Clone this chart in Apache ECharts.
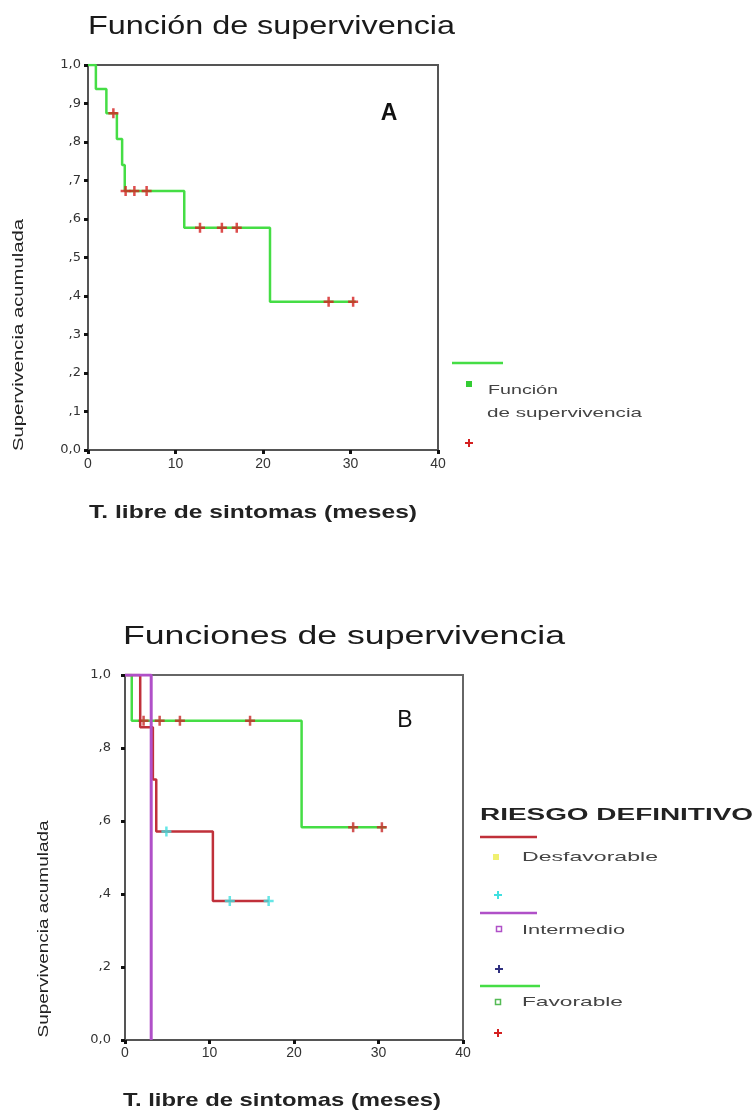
<!DOCTYPE html>
<html><head><meta charset="utf-8">
<script src="https://cdn.jsdelivr.net/npm/echarts@6/dist/echarts.min.js"></script>
<style>html,body{margin:0;padding:0;background:#fff}#c{width:755px;height:1111px}</style>
</head><body><div id="c"></div>
<script>
// ---- Chart A: Función de supervivencia ----
const aTimes = [0, 0.9, 2.1, 3.3, 3.9, 4.2, 11.0, 20.8, 30.6];
const aSurv  = [1.0, 0.9375, 0.875, 0.808, 0.740, 0.673, 0.577, 0.385, 0.385];
const aCensTimes = [2.9, 4.3, 5.3, 6.7, 12.8, 15.3, 17.0, 27.5, 30.3];
const aCensSurv  = [0.875, 0.673, 0.673, 0.673, 0.577, 0.577, 0.577, 0.385, 0.385];
// ---- Chart B: Funciones de supervivencia (RIESGO DEFINITIVO) ----
const desfTimes = [0, 1.8, 3.3, 3.7, 10.4, 17.0];
const desfSurv  = [1.0, 0.857, 0.714, 0.571, 0.381, 0.381];
const desfCensTimes = [4.9, 12.4, 17.0];
const desfCensSurv  = [0.571, 0.381, 0.381];
const interTimes = [0, 3.1];
const interSurv  = [1.0, 0.0];
const favTimes = [0, 0.8, 20.9, 30.9];
const favSurv  = [1.0, 0.875, 0.583, 0.583];
const favCensTimes = [2.2, 4.1, 6.5, 14.8, 27.0, 30.4];
const favCensSurv  = [0.875, 0.875, 0.875, 0.875, 0.583, 0.583];
// ---- tick labels ----
const xTickLabels = ['0', '10', '20', '30', '40'];
const yTickLabelsA = ['0,0', ',1', ',2', ',3', ',4', ',5', ',6', ',7', ',8', ',9', '1,0'];
const yTickLabelsB = ['0,0', ',2', ',4', ',6', ',8', '1,0'];
// ---- texts ----
const titleA = 'Función de supervivencia';
const titleB = 'Funciones de supervivencia';
const xTitle = 'T. libre de sintomas (meses)';
const yTitle = 'Supervivencia acumulada';
const legendTitleB = 'RIESGO DEFINITIVO';
const groupNames = ['Desfavorable', 'Intermedio', 'Favorable'];

const zip = (a, b) => a.map((v, i) => [v, b[i]]);
const FAM = '"Liberation Sans", Arial, sans-serif';
const mctx = document.createElement('canvas').getContext('2d');
function fit(text, size, weight, target) {
  mctx.font = weight + ' ' + size + 'px ' + FAM;
  return target / mctx.measureText(text).width;
}
function txt(text, x, y, size, weight, target, color, opts) {
  opts = opts || {};
  return {
    type: 'text', x: x, y: y, rotation: opts.rotation || 0,
    scaleX: target ? fit(text, size, weight, target) : 1,
    z: 100,
    style: {
      text: text, fontSize: size, fontWeight: weight, fontFamily: FAM,
      fill: color, align: opts.align || 'left', verticalAlign: opts.va || 'middle'
    }
  };
}
function plus(cx, cy, s, color) {
  return [
    { type: 'line', z: 100, shape: { x1: cx - s, y1: cy, x2: cx + s, y2: cy }, style: { stroke: color, lineWidth: 2 } },
    { type: 'line', z: 100, shape: { x1: cx, y1: cy - s, x2: cx, y2: cy + s }, style: { stroke: color, lineWidth: 2 } }
  ];
}
function hline(x1, x2, y, color) {
  return { type: 'line', z: 100, shape: { x1: x1, y1: y, x2: x2, y2: y }, style: { stroke: color, lineWidth: 2.5 } };
}
function sq(cx, cy, s, color, filled) {
  return { type: 'rect', z: 100, shape: { x: cx - s / 2, y: cy - s / 2, width: s, height: s },
    style: filled ? { fill: color } : { fill: 'none', stroke: color, lineWidth: 1.5 } };
}

const PLUS = 'path://M3,0H5V3H8V5H5V8H3V5H0V3H3Z';
const GREEN = '#45dd45', RED = '#d42020', DRED = '#c0303a', MAG = '#b050c8', CYAN = '#40e0e0';

const axisCommon = {
  axisLine: { show: true, lineStyle: { color: '#555', width: 2 } },
  axisTick: { show: true, inside: false, length: 4, lineStyle: { color: '#111', width: 3 } },
  splitLine: { show: false }
};

const chart = echarts.init(document.getElementById('c'), null, { renderer: 'canvas' });
chart.setOption({
  backgroundColor: '#fff',
  animation: false,
  grid: [
    { left: 88, top: 65, width: 350, height: 385, show: true, borderColor: '#555', borderWidth: 2, backgroundColor: 'transparent' },
    { left: 125, top: 675, width: 338, height: 365, show: true, borderColor: '#666', borderWidth: 2, backgroundColor: 'transparent' }
  ],
  xAxis: [
    Object.assign({ gridIndex: 0, type: 'value', min: 0, max: 40, interval: 10,
      axisLabel: { margin: 7, fontSize: 14, color: '#333', fontFamily: FAM, formatter: v => xTickLabels[Math.round(v / 10)] } }, axisCommon),
    Object.assign({ gridIndex: 1, type: 'value', min: 0, max: 40, interval: 10,
      axisLabel: { margin: 6, fontSize: 14, color: '#333', fontFamily: FAM, formatter: v => xTickLabels[Math.round(v / 10)] } }, axisCommon)
  ],
  yAxis: [
    Object.assign({ gridIndex: 0, type: 'value', min: 0, max: 1, interval: 0.1,
      axisLabel: { margin: 7, fontSize: 13, color: '#333', fontFamily: '"DejaVu Sans", sans-serif', formatter: v => yTickLabelsA[Math.round(v * 10)] } }, axisCommon),
    Object.assign({ gridIndex: 1, type: 'value', min: 0, max: 1, interval: 0.2,
      axisLabel: { margin: 14, fontSize: 13, color: '#333', fontFamily: '"DejaVu Sans", sans-serif', formatter: v => yTickLabelsB[Math.round(v * 5)] } }, axisCommon)
  ],
  series: [
    { type: 'line', xAxisIndex: 0, yAxisIndex: 0, step: 'end', data: zip(aTimes, aSurv), symbol: 'none',
      lineStyle: { color: GREEN, width: 2.5 }, z: 3 },
    { type: 'scatter', xAxisIndex: 0, yAxisIndex: 0, data: zip(aCensTimes, aCensSurv), symbol: PLUS, symbolSize: 10,
      itemStyle: { color: RED }, z: 5 },
    { type: 'line', xAxisIndex: 1, yAxisIndex: 1, step: 'end', data: zip(favTimes, favSurv), symbol: 'none',
      lineStyle: { color: GREEN, width: 2.5 }, z: 3 },
    { type: 'line', xAxisIndex: 1, yAxisIndex: 1, step: 'end', data: zip(desfTimes, desfSurv), symbol: 'none',
      lineStyle: { color: DRED, width: 2.5 }, z: 4 },
    { type: 'line', xAxisIndex: 1, yAxisIndex: 1, step: 'end', data: zip(interTimes, interSurv), symbol: 'none',
      lineStyle: { color: MAG, width: 3 }, z: 4 },
    { type: 'scatter', xAxisIndex: 1, yAxisIndex: 1, data: zip(desfCensTimes, desfCensSurv), symbol: PLUS, symbolSize: 10,
      itemStyle: { color: CYAN }, z: 5 },
    { type: 'scatter', xAxisIndex: 1, yAxisIndex: 1, data: zip(favCensTimes, favCensSurv), symbol: PLUS, symbolSize: 10,
      itemStyle: { color: '#c82828' }, z: 5 }
  ],
  graphic: [].concat(
    // Chart A texts
    txt(titleA, 88, 40, 26, 'normal', 367, '#1a1a1a', { va: 'bottom' }),
    txt('A', 389, 114, 23, 'bold', 0, '#111', { align: 'center' }),
    txt(xTitle, 89, 513, 19, 'bold', 328, '#222', { va: 'middle' }),
    txt(yTitle, 19, 335, 14, 'normal', 232, '#222', { rotation: Math.PI / 2, align: 'center' }),
    // Chart A legend
    hline(452, 503, 363, GREEN),
    sq(469, 384, 6, '#33cc33', true),
    txt('Función', 488, 390, 13, 'normal', 70, '#444'),
    txt('de supervivencia', 487, 413, 13, 'normal', 155, '#444'),
    plus(469, 443, 4, RED),
    // Chart B texts
    txt(titleB, 123, 650, 26, 'normal', 442, '#1a1a1a', { va: 'bottom' }),
    txt('B', 405, 721, 23, 'normal', 0, '#111', { align: 'center' }),
    txt(xTitle, 123, 1101, 19, 'bold', 318, '#222', { va: 'middle' }),
    txt(yTitle, 44, 929, 14, 'normal', 217, '#222', { rotation: Math.PI / 2, align: 'center' }),
    // Chart B legend
    txt(legendTitleB, 480, 816, 16, 'bold', 273, '#222'),
    hline(480, 537, 837, DRED),
    sq(496, 857, 6, '#f0f070', true),
    txt(groupNames[0], 522, 857, 13, 'normal', 136, '#444'),
    plus(498, 895, 4, CYAN),
    hline(480, 537, 913, MAG),
    sq(499, 929, 5, MAG, false),
    txt(groupNames[1], 522, 930, 13, 'normal', 103, '#444'),
    plus(499, 969, 4, '#303080'),
    hline(480, 540, 986, GREEN),
    sq(498, 1002, 5, '#55bb55', false),
    txt(groupNames[2], 522, 1002, 13, 'normal', 101, '#444'),
    plus(498, 1033, 4, RED)
  )
});
</script>
</body></html>
